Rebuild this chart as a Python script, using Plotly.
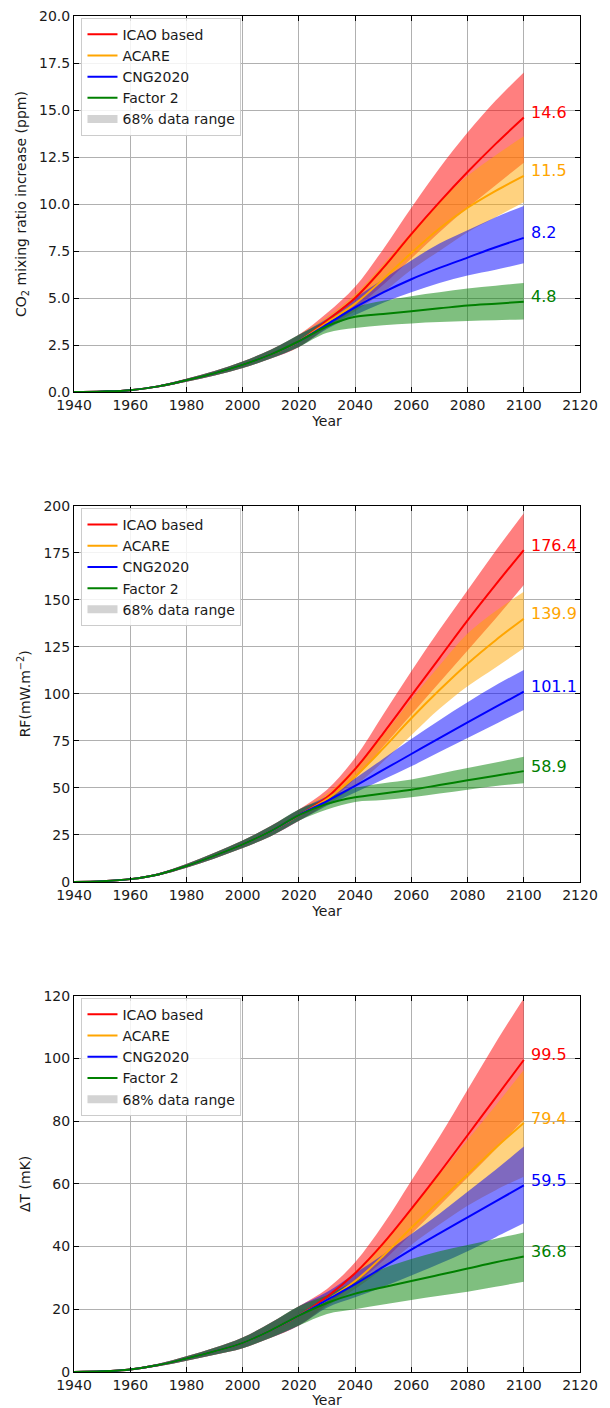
import plotly.graph_objects as go

# ---------------- data ----------------
hist_years = [1940, 1950, 1960, 1970, 1980, 1990, 2000, 2010, 2020]
fut_years = [2030, 2040, 2050, 2060, 2070, 2080, 2090, 2100]

scenarios = ["ICAO based", "ACARE", "CNG2020", "Factor 2"]
line_colors = ["red", "orange", "blue", "green"]
fill_colors = ["rgba(255,0,0,0.5)", "rgba(255,165,0,0.5)", "rgba(0,0,255,0.5)", "rgba(0,128,0,0.5)"]

# Panel 1: CO2 mixing ratio increase (ppm)
co2_hist_mid = [0, 0.03, 0.1, 0.3, 0.63, 1.0, 1.45, 2.0, 2.7]
co2_hist_lo = [0, 0.02, 0.08, 0.25, 0.55, 0.88, 1.28, 1.78, 2.4]
co2_hist_hi = [0, 0.04, 0.12, 0.35, 0.71, 1.12, 1.62, 2.25, 3.05]
co2_mid = {
    "ICAO based": [3.8, 5.0, 6.6, 8.4, 10.1, 11.7, 13.2, 14.6],
    "ACARE": [3.7, 4.7, 6.0, 7.4, 8.7, 9.8, 10.7, 11.5],
    "CNG2020": [3.6, 4.5, 5.3, 6.0, 6.6, 7.15, 7.7, 8.2],
    "Factor 2": [3.5, 4.0, 4.15, 4.3, 4.45, 4.6, 4.7, 4.8],
}
co2_hi = {
    "ICAO based": [4.2, 5.6, 7.6, 9.8, 11.9, 13.8, 15.5, 17.0],
    "ACARE": [4.0, 5.2, 6.8, 8.5, 10.1, 11.5, 12.6, 13.6],
    "CNG2020": [3.9, 5.0, 6.0, 7.0, 7.9, 8.6, 9.3, 9.9],
    "Factor 2": [3.8, 4.5, 4.85, 5.1, 5.3, 5.5, 5.65, 5.8],
}
co2_lo = {
    "ICAO based": [3.45, 4.45, 5.7, 7.1, 8.5, 9.8, 11.0, 12.2],
    "ACARE": [3.4, 4.3, 5.3, 6.5, 7.5, 8.5, 9.3, 10.1],
    "CNG2020": [3.35, 4.1, 4.75, 5.3, 5.8, 6.2, 6.5, 6.85],
    "Factor 2": [3.15, 3.4, 3.55, 3.65, 3.72, 3.78, 3.82, 3.86],
}
co2_labels = ["14.6", "11.5", "8.2", "4.8"]

# Panel 2: RF (mW m-2)
rf_hist_mid = [0, 0.4, 1.5, 4, 8.5, 14, 20, 27, 35.5]
rf_hist_lo = [0, 0.3, 1.2, 3.4, 7.5, 12.5, 18, 24.3, 32.5]
rf_hist_hi = [0, 0.5, 1.8, 4.6, 9.5, 15.5, 22, 29.7, 38.5]
rf_mid = {
    "ICAO based": [45, 60, 79, 99, 119, 139, 158, 176.4],
    "ACARE": [44, 56, 71, 87, 102, 116, 128.5, 139.9],
    "CNG2020": [43, 51, 59.5, 68, 76.5, 84.8, 93, 101.1],
    "Factor 2": [41.5, 45, 47, 49, 51.5, 54, 56.5, 58.9],
}
rf_hi = {
    "ICAO based": [49, 66, 89, 112, 134, 155, 176, 196],
    "ACARE": [47, 61, 78, 97, 115, 132, 144, 154.3],
    "CNG2020": [45.5, 55, 65.5, 76, 86, 95.5, 104.5, 112.7],
    "Factor 2": [44.5, 50, 52.5, 54.5, 57.5, 60.5, 63.5, 66.6],
}
rf_lo = {
    "ICAO based": [42, 55, 72, 89, 106, 123, 140, 157.8],
    "ACARE": [41, 51, 64, 78, 92, 104, 114, 124.2],
    "CNG2020": [40.5, 47.5, 54.5, 61.5, 69, 76.5, 84, 91.4],
    "Factor 2": [38.5, 42.5, 43.5, 45, 47, 49, 51, 52.5],
}
rf_labels = ["176.4", "139.9", "101.1", "58.9"]

# Panel 3: Delta T (mK)
dt_hist_mid = [0, 0.2, 0.8, 2.2, 4.3, 6.6, 9.3, 13.3, 18]
dt_hist_lo = [0, 0.15, 0.6, 1.8, 3.6, 5.5, 7.6, 10.9, 14.8]
dt_hist_hi = [0, 0.25, 1.0, 2.6, 5.0, 7.7, 11.0, 15.7, 21]
dt_mid = {
    "ICAO based": [24, 31.5, 41, 52, 63.5, 75.5, 87.5, 99.5],
    "ACARE": [23, 29, 37, 46, 54.5, 63, 71.5, 79.4],
    "CNG2020": [23, 28, 33.5, 39, 44.2, 49.3, 54.4, 59.5],
    "Factor 2": [22, 25, 27, 29, 31, 33, 35, 36.8],
}
dt_hi = {
    "ICAO based": [26.5, 35, 47, 61, 75, 90, 105, 119.2],
    "ACARE": [25, 32, 41.5, 52, 63, 74, 85, 96.3],
    "CNG2020": [25.5, 31.5, 37.5, 44, 50.5, 57.5, 64.5, 71.9],
    "Factor 2": [24.5, 29, 33, 36, 38.5, 40.5, 42.5, 44.5],
}
dt_lo = {
    "ICAO based": [21.5, 28, 35.5, 44, 53, 62, 71, 80.5],
    "ACARE": [21, 26.5, 33, 40.5, 47, 53, 58, 62.3],
    "CNG2020": [20.5, 23.8, 27.2, 30.8, 34.5, 38.5, 43, 47.4],
    "Factor 2": [18.5, 20, 21.5, 23, 24.3, 25.6, 27.2, 28.8],
}
dt_labels = ["99.5", "79.4", "59.5", "36.8"]

panels = [
    dict(hm=co2_hist_mid, hl=co2_hist_lo, hh=co2_hist_hi, mid=co2_mid, lo=co2_lo, hi=co2_hi,
         labels=co2_labels, yrange=[0, 20], dtick=2.5, fmt=".1f",
         title="CO<sub>2</sub> mixing ratio increase (ppm)", domain=[0.7227, 1.0], legtop=0.9988),
    dict(hm=rf_hist_mid, hl=rf_hist_lo, hh=rf_hist_hi, mid=rf_mid, lo=rf_lo, hi=rf_hi,
         labels=rf_labels, yrange=[0, 200], dtick=25, fmt="d",
         title="RF(mW.m<sup>−2</sup>)", domain=[0.3614, 0.6389], legtop=0.6372),
    dict(hm=dt_hist_mid, hl=dt_hist_lo, hh=dt_hist_hi, mid=dt_mid, lo=dt_lo, hi=dt_hi,
         labels=dt_labels, yrange=[0, 120], dtick=20, fmt="d",
         title="ΔT (mK)", domain=[0.0, 0.2775], legtop=0.276),
]

FONT = "DejaVu Sans"
years = hist_years + fut_years

fig = go.Figure()
layout = dict(
    width=610, height=1408,
    margin=dict(l=74, r=30, t=16, b=36, autoexpand=False),
    paper_bgcolor="white", plot_bgcolor="white",
    font=dict(family=FONT, size=14, color="#1a1a1a"),
    annotations=[],
)

for i, p in enumerate(panels):
    n = "" if i == 0 else str(i + 1)
    xa, ya = "x" + n, "y" + n
    leg = "legend" + n
    # fills
    for s, fc in zip(scenarios, fill_colors):
        lo = p["hl"] + p["lo"][s]
        hi = p["hh"] + p["hi"][s]
        fig.add_trace(go.Scatter(x=years, y=lo, mode="lines", line=dict(width=0, shape="spline", smoothing=1.0),
                                 showlegend=False, hoverinfo="skip", xaxis=xa, yaxis=ya))
        fig.add_trace(go.Scatter(x=years, y=hi, mode="lines", line=dict(width=0, shape="spline", smoothing=1.0),
                                 fill="tonexty", fillcolor=fc, showlegend=False, hoverinfo="skip",
                                 xaxis=xa, yaxis=ya))
    # center lines
    for s, lc in zip(scenarios, line_colors):
        fig.add_trace(go.Scatter(x=years, y=p["hm"] + p["mid"][s], mode="lines", name=s,
                                 line=dict(color=lc, width=2, shape="spline", smoothing=1.0),
                                 xaxis=xa, yaxis=ya, legend=leg))
    fig.add_trace(go.Scatter(x=[None], y=[None], mode="lines", name="68% data range",
                             line=dict(color="#d3d3d3", width=8), xaxis=xa, yaxis=ya, legend=leg))
    # end labels
    for s, lc, lab in zip(scenarios, line_colors, p["labels"]):
        layout["annotations"].append(dict(
            x=fut_years[-1], y=p["mid"][s][-1], xref=xa, yref=ya, text=lab, showarrow=False,
            xanchor="left", yanchor="middle", xshift=5, yshift=5,
            font=dict(family=FONT, size=16, color=lc)))
    axis_common = dict(showline=True, linecolor="black", linewidth=1, mirror="allticks",
                       ticks="inside", ticklen=5, tickcolor="black", showgrid=True,
                       gridcolor="#b0b0b0", gridwidth=1, zeroline=False, automargin=False,
                       tickfont=dict(family=FONT, size=14, color="#1a1a1a"))
    layout["xaxis" + n] = dict(axis_common, range=[1940, 2120], dtick=20, tick0=1940,
                               anchor=ya, domain=[0, 1],
                               title=dict(text="Year", standoff=2,
                                          font=dict(family=FONT, size=14)))
    layout["yaxis" + n] = dict(axis_common, range=p["yrange"], dtick=p["dtick"], tick0=0,
                               tickformat=p["fmt"], anchor=xa, domain=p["domain"],
                               title=dict(text=p["title"], standoff=9,
                                          font=dict(family=FONT, size=14)))
    layout[leg] = dict(x=0.0148, y=p["legtop"], xref="paper", yref="paper",
                       xanchor="left", yanchor="top", traceorder="normal",
                       bgcolor="rgba(255,255,255,0.85)", bordercolor="#cccccc", borderwidth=1,
                       font=dict(family=FONT, size=14, color="#1a1a1a"),
                       tracegroupgap=0, itemwidth=30)

fig.update_layout(**layout)
# remove the default page margin so the figure fills the window exactly
fig.write_html("out.html", config={"displayModeBar": False},
               post_script="document.body.style.margin='0';document.body.style.overflow='hidden';")
